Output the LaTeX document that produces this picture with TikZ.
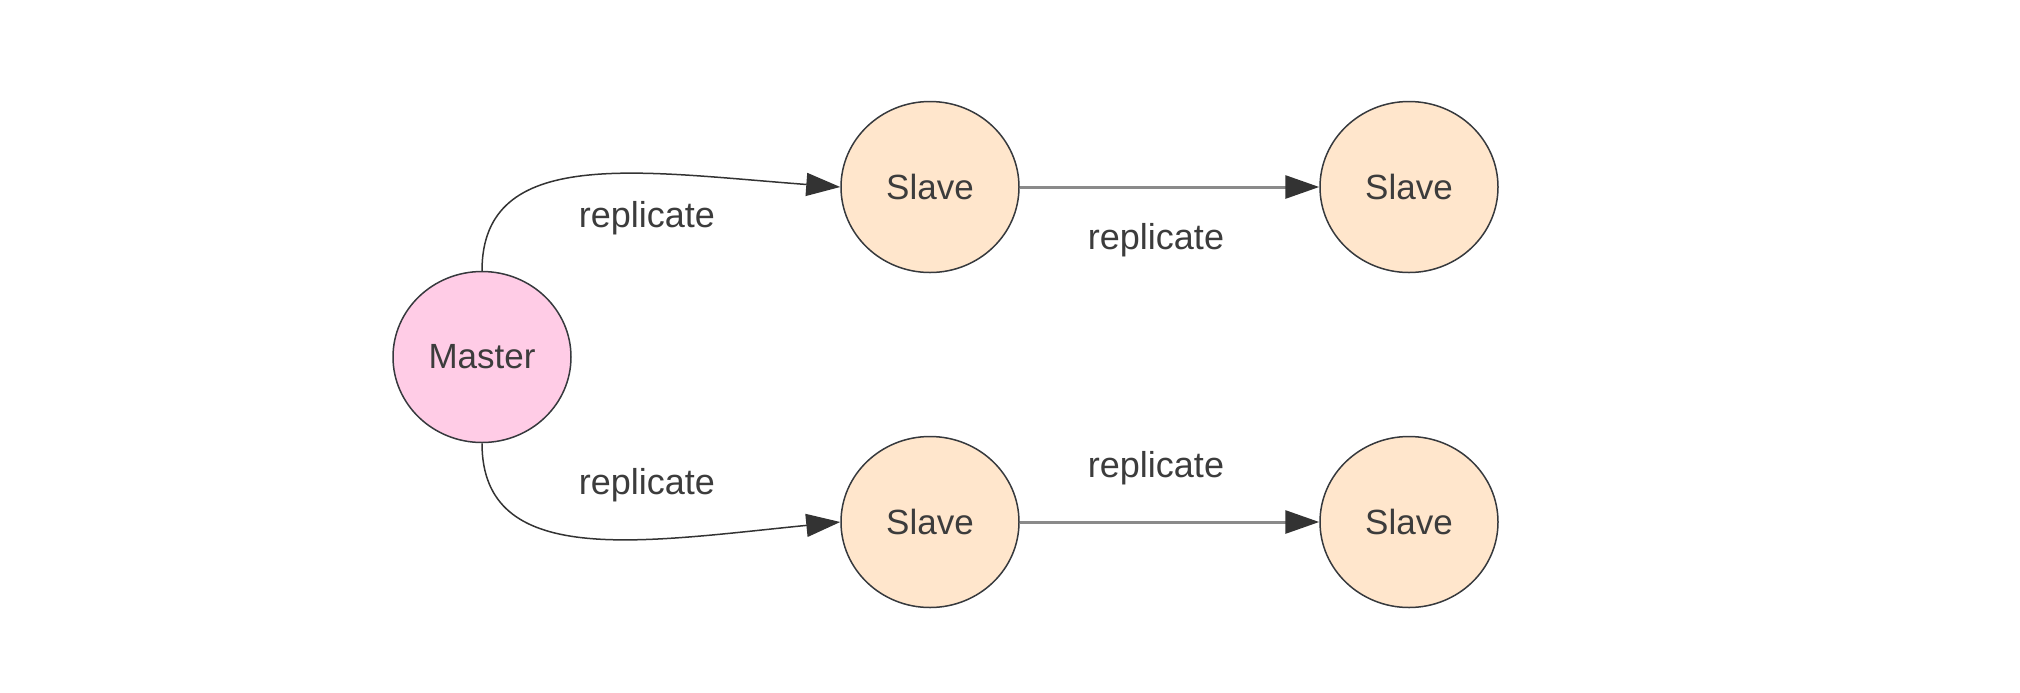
\documentclass[tikz,border=0pt]{standalone}
\usepackage{fontspec}
\setmainfont{Liberation Sans}
\usetikzlibrary{shapes.geometric,arrows.meta}
\definecolor{txt}{HTML}{3C3C3C}
\definecolor{strokec}{HTML}{36393D}
\definecolor{slavefill}{HTML}{FFE6CC}
\definecolor{masterfill}{HTML}{FFCCE6}
\definecolor{edgegray}{HTML}{8A8A8A}
\definecolor{arrowc}{HTML}{333333}
\tikzset{
  circ/.style={ellipse, draw=strokec, line width=0.75pt, minimum width=89pt, minimum height=85.5pt, inner sep=0pt, text=txt, font=\fontsize{17.5}{20}\selectfont},
  masternode/.style={circ, fill=masterfill},
  slavenode/.style={circ, fill=slavefill},
  lbl/.style={text=txt, font=\fontsize{18}{21}\selectfont, inner sep=0pt},
  tip/.style={-{Triangle[length=17pt,width=11.5pt]}},
  curveedge/.style={tip, draw=arrowc, line width=0.75pt},
  straightedge/.style={draw=edgegray, line width=1.5pt, arrows={-{Triangle[length=17pt,width=11.5pt,color=arrowc]}}}
}
\begin{document}
\begin{tikzpicture}[x=0.5pt,y=-0.5pt]
\useasboundingbox (0,0) rectangle (2020,692);
\node[masternode] (M) at (482,357) {Master};
\node[slavenode] (S1) at (930,187) {Slave};
\node[slavenode] (S2) at (1409,187) {Slave};
\node[slavenode] (S3) at (930,522) {Slave};
\node[slavenode] (S4) at (1409,522) {Slave};
\draw[curveedge] (M.north) .. controls (482,145) and (640,172) .. (S1.west);
\draw[curveedge] (M.south) .. controls (482,569) and (640,542) .. (S3.west);
\draw[straightedge] (S1.east) -- (S2.west);
\draw[straightedge] (S3.east) -- (S4.west);
\node[lbl] (L1) at (647,218) {replicate};
\node[lbl] (L2) at (647,485) {replicate};
\node[lbl] (L3) at (1156,240) {replicate};
\node[lbl] (L4) at (1156,468) {replicate};
\end{tikzpicture}
\end{document}
